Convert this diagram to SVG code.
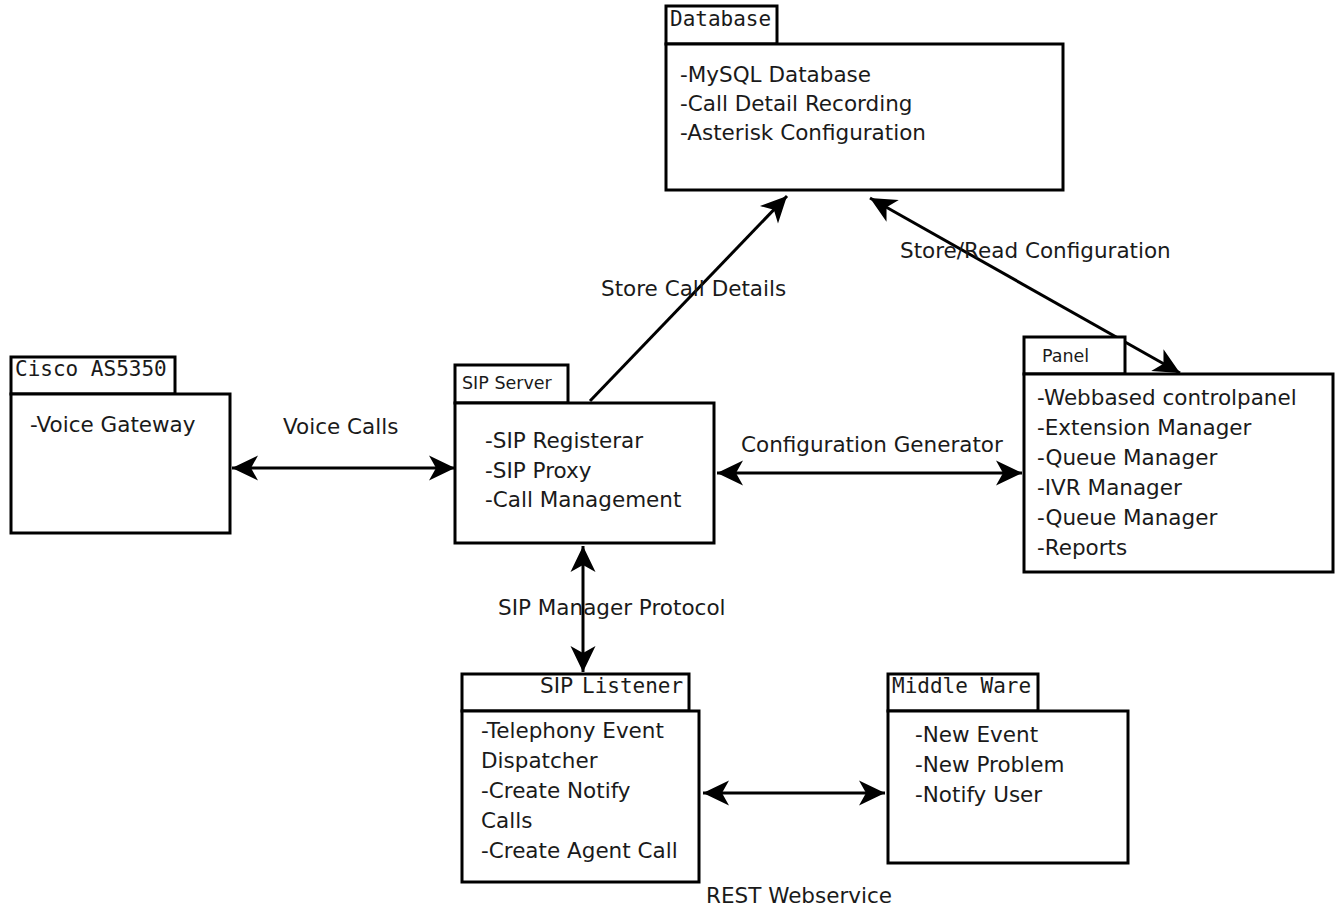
<svg xmlns="http://www.w3.org/2000/svg" width="1335" height="909" viewBox="0 0 1335 909">
  <style>
    .box { fill: #ffffff; stroke: #000000; stroke-width: 3; }
    .tab { font-family: "DejaVu Sans Mono", "Liberation Mono", monospace; font-size: 21px; fill: #1a1a1a; }
    .tabs { font-family: "DejaVu Sans", "Liberation Sans", sans-serif; font-size: 17.5px; fill: #1a1a1a; }
    .item { font-family: "DejaVu Sans", "Liberation Sans", sans-serif; font-size: 21.5px; fill: #1a1a1a; }
    .lbl { font-family: "DejaVu Sans", "Liberation Sans", sans-serif; font-size: 21.5px; fill: #1a1a1a; }
    .link { fill: none; stroke: #000000; stroke-width: 3; marker-end: url(#head); }
    .both { marker-start: url(#head); }
  </style>
  <defs>
    <marker id="head" markerUnits="userSpaceOnUse" orient="auto-start-reverse" refX="0" refY="0" markerWidth="30" markerHeight="30" overflow="visible">
      <path d="M0,0 L-26,-12.5 L-19,0 L-26,12.5 Z" fill="#000000"/>
    </marker>
  </defs>
  <rect width="1335" height="909" fill="#ffffff"/>

  <!-- connectors -->
  <g id="connectors">
    <path class="link both" d="M232,468 L455,468"/>
    <path class="link both" d="M717,473 L1022,473"/>
    <path class="link" d="M590,401 L787,196"/>
    <path class="link both" d="M870,198 L1180,373"/>
    <path class="link both" d="M583,546 L583,672"/>
    <path class="link both" d="M703,793 L885,793"/>
    <text class="lbl" x="283" y="434">Voice Calls</text>
    <text class="lbl" x="741" y="452">Configuration Generator</text>
    <text class="lbl" x="601" y="296">Store Call Details</text>
    <text class="lbl" x="900" y="258">Store/Read Configuration</text>
    <text class="lbl" x="498" y="615">SIP Manager Protocol</text>
    <text class="lbl" x="706" y="903">REST Webservice</text>
  </g>

  <!-- Database -->
  <g id="database">
    <rect class="box" x="666" y="6" width="111" height="38"/>
    <rect class="box" x="666" y="44" width="397" height="146"/>
    <text class="tab" x="670" y="26">Database</text>
    <text class="item" x="680" y="82">-MySQL Database</text>
    <text class="item" x="680" y="111">-Call Detail Recording</text>
    <text class="item" x="680" y="140">-Asterisk Configuration</text>
  </g>

  <!-- Cisco AS5350 -->
  <g id="cisco">
    <rect class="box" x="11" y="357" width="164" height="37"/>
    <rect class="box" x="11" y="394" width="219" height="139"/>
    <text class="tab" x="15" y="376">Cisco AS5350</text>
    <text class="item" x="30" y="432">-Voice Gateway</text>
  </g>

  <!-- SIP Server -->
  <g id="sip-server">
    <rect class="box" x="455" y="365" width="113" height="38"/>
    <rect class="box" x="455" y="403" width="259" height="140"/>
    <text class="tabs" x="462" y="389">SIP Server</text>
    <text class="item" x="485" y="448">-SIP Registerar</text>
    <text class="item" x="485" y="478">-SIP Proxy</text>
    <text class="item" x="485" y="507">-Call Management</text>
  </g>

  <!-- Panel -->
  <g id="panel">
    <rect class="box" x="1024" y="337" width="101" height="37"/>
    <rect class="box" x="1024" y="374" width="309" height="198"/>
    <text class="tabs" x="1042" y="362">Panel</text>
    <text class="item" x="1037" y="405">-Webbased controlpanel</text>
    <text class="item" x="1037" y="435">-Extension Manager</text>
    <text class="item" x="1037" y="465">-Queue Manager</text>
    <text class="item" x="1037" y="495">-IVR Manager</text>
    <text class="item" x="1037" y="525">-Queue Manager</text>
    <text class="item" x="1037" y="555">-Reports</text>
  </g>

  <!-- SIP Listener -->
  <g id="sip-listener">
    <rect class="box" x="462" y="674" width="227" height="37"/>
    <rect class="box" x="462" y="711" width="237" height="171"/>
    <text x="540" y="693"><tspan class="item" font-size="20px">SIP</tspan><tspan class="tab" x="582">Listener</tspan></text>
    <text class="item" x="481" y="738">-Telephony Event</text>
    <text class="item" x="481" y="768">Dispatcher</text>
    <text class="item" x="481" y="798">-Create Notify</text>
    <text class="item" x="481" y="828">Calls</text>
    <text class="item" x="481" y="858">-Create Agent Call</text>
  </g>

  <!-- Middle Ware -->
  <g id="middle-ware">
    <rect class="box" x="888" y="674" width="150" height="37"/>
    <rect class="box" x="888" y="711" width="240" height="152"/>
    <text class="tab" x="892" y="693">Middle Ware</text>
    <text class="item" x="915" y="742">-New Event</text>
    <text class="item" x="915" y="772">-New Problem</text>
    <text class="item" x="915" y="802">-Notify User</text>
  </g>
</svg>
